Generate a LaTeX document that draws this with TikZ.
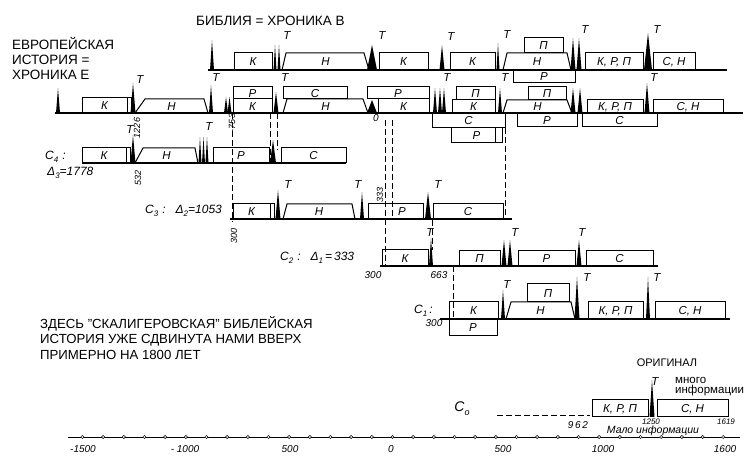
\documentclass[tikz,border=0pt]{standalone}
\usepackage{fontspec}
\setmainfont{Liberation Sans}
\newcommand\lidx[1]{\raisebox{-0.45ex}{\fontsize{8}{8}\selectfont #1}}
% spike: x, top y, base y, half width
\newcommand\spk[4]{\fill ({#1-#4},#3) -- (#1,#2) -- ({#1+#4},#3) -- cycle;}
% box with label: x1,y1,x2,y2,text
\newcommand\bxl[5]{\draw[bx] (#1,#2) rectangle (#3,#4);
  \node[lb] (b#1-#2) at ({(#1+#3)/2},{(#2+#4)/2+0.5}) {#5};}
% trapezoid: x1, x1top, x2top, x2, ytop, ybase, text
\newcommand\trp[7]{\draw[bx] (#1,#6) -- (#2,#5) -- (#3,#5) -- (#4,#6);
  \node[lb] (t#1-#5) at ({(#1+#4)/2},{(#5+#6)/2+0.5}) {#7};}
\newcommand\tT[2]{\node[tl] (T#1-#2) at (#1,#2) {Т};}
\begin{document}
\begin{tikzpicture}[x=1pt,y=-1pt,
  bx/.style={draw,line width=1pt,line join=miter},
  base/.style={line width=1.2pt},
  lb/.style={font=\fontsize{11.5}{12}\selectfont\itshape,inner sep=0pt},
  tl/.style={font=\fontsize{11.5}{12}\selectfont\itshape,inner sep=0pt},
  num/.style={font=\fontsize{9}{9}\selectfont\itshape,inner sep=0pt},
  cl/.style={font=\fontsize{12}{12}\selectfont\itshape,inner sep=0pt,anchor=west},
  axl/.style={font=\fontsize{10}{10}\selectfont\itshape,inner sep=0pt},
  dsh/.style={line width=0.8pt,dash pattern=on 6pt off 3pt},
  ttl/.style={font=\fontsize{13.5}{15}\selectfont,inner sep=0pt,anchor=west,align=left}]
\useasboundingbox (0,0) rectangle (748,457);
\fill[white] (0,0) rectangle (748,457);

% ---------- titles ----------
\node[ttl] (bib) at (196,21) {БИБЛИЯ = ХРОНИКА В};
\node[ttl] (evr) at (12,58) {ЕВРОПЕЙСКАЯ\\ИСТОРИЯ =\\ХРОНИКА Е};

% ---------- row 1 : chronicle B ----------
\draw[base] (208,70) -- (727,70);
\spk{212}{40}{70}{2}
\bxl{234}{53}{272}{70}{К}
\spk{275}{45}{70}{1.5}\spk{279}{45}{70}{1.5}
\tT{287}{36}
\trp{282}{286}{364}{369}{53}{70}{Н}
\spk{372}{45}{70}{5}\tT{382}{36}
\bxl{379}{53}{428}{70}{К}
\spk{442}{45}{70}{2.5}\tT{451}{37}
\bxl{450}{53}{495}{70}{К}
\spk{498}{43}{70}{1.5}\tT{507}{35}
\trp{503}{507}{567}{571}{53}{70}{Н}
\bxl{524}{38}{563}{53}{П}
\bxl{513}{70}{575}{83}{Р}
\spk{573}{38}{70}{2.5}\spk{579}{38}{70}{2.5}\tT{585}{30}
\bxl{585}{53}{643}{70}{К, Р, П}
\spk{648}{33}{70}{4}\tT{657}{30}
\bxl{653}{53}{695}{70}{С, Н}

% ---------- row 2 : chronicle E ----------
\draw[base] (55,113) -- (743,113);
\spk{58}{88}{113}{2}
\bxl{82}{98}{127}{113}{К}
\draw[bx] (127,98) rectangle (131,113);
\spk{133}{83}{113}{2.5}\tT{140}{80}
\trp{135}{145}{204}{208}{99}{113}{Н}
\spk{211}{85}{113}{2}\tT{216}{78}
\spk{226}{97}{113}{2}\spk{229.5}{97}{113}{2}
\bxl{233}{87}{272}{99}{Р}
\bxl{233}{99}{272}{113}{К}
\spk{276}{92}{113}{2.5}\tT{285}{78}
\bxl{283}{87}{347}{99}{С}
\trp{283}{287}{363}{368}{99}{113}{Н}
\spk{372}{100}{113}{5}
\bxl{367}{87}{429}{99}{Р}
\bxl{378}{99}{429}{113}{К}
\spk{435}{88}{113}{2}\spk{440}{88}{113}{2}\spk{444}{88}{113}{2}\tT{447}{78}
\bxl{456}{87}{495}{100}{П}
\bxl{452}{100}{495}{113}{К}
\bxl{432}{113}{505}{128}{С}
\bxl{451}{128}{502}{143}{Р}
\draw[bx] (495,128) -- (495,143);
\spk{500}{88}{113}{2}\tT{505}{78}
\trp{503}{507}{567}{572}{100}{113}{Н}
\bxl{528}{87}{566}{100}{П}
\bxl{517}{113}{577}{127}{Р}
\spk{573}{88}{113}{2.5}\spk{580}{88}{113}{2.5}
\bxl{587}{100}{643}{113}{К, Р, П}
\bxl{582}{113}{657}{127}{С}
\spk{647}{83}{113}{2.5}\tT{654}{78}
\bxl{653}{100}{723}{113}{С, Н}
\node[num,font=\fontsize{10}{10}\selectfont\itshape] (zero) at (376,118) {0};

% ---------- C4 ----------
\draw[base] (82,163) -- (346,163);
\node[cl] (c4) at (45,157) {С\lidx{4}\,\,:};
\node[cl] (d3) at (47,173) {Δ\lidx{3}=1778};
\bxl{82}{148}{126}{163}{К}
\draw[bx] (126,148) rectangle (130,163);
\spk{133}{135}{163}{2.5}\tT{130}{130}
\trp{135}{143}{195}{198}{148}{163}{Н}
\spk{200}{137}{163}{1.5}\spk{203.5}{137}{163}{1.5}\spk{207}{137}{163}{1.5}\tT{209}{127}
\bxl{213}{148}{269}{163}{Р}
\spk{273}{140}{163}{3}
\bxl{281}{148}{346}{163}{С}
\node[num,rotate=90] (n1226) at (137,128) {1226};
\node[num,rotate=90] (n753) at (232,123) {-753};
\node[num,rotate=90] (n532) at (138,178) {532};

% ---------- C3 ----------
\draw[base] (230,219) -- (512,219);
\node[cl] (c3) at (145,211) {С\lidx{3}\,\,:\,\,\,\,\,Δ\lidx{2}=1053};
\bxl{233}{204}{270}{219}{К}
\draw[bx] (270,204) rectangle (274,219);
\spk{278}{190}{219}{2.5}\tT{288}{185}
\trp{283}{287}{352}{355}{204}{219}{Н}
\spk{362}{192}{219}{2}\tT{358}{185}
\bxl{368}{204}{423}{219}{}
\node[lb] (p3) at (402,212) {Р};
\spk{428}{192}{219}{3}\tT{438}{185}
\bxl{433}{204}{503}{219}{С}
\node[num,rotate=90] (n300a) at (234,236) {300};
\node[num,rotate=90] (n333) at (380,195) {333};

% ---------- C2 ----------
\draw[base] (380,266) -- (658,266);
\node[cl] (c2) at (280,258) {С\lidx{2}\,\,:\,\,\,\,\,Δ\lidx{1}\,=\,333};
\bxl{382}{250}{428}{266}{К}
\spk{431}{238}{266}{2}\tT{430}{233}
\bxl{459}{251}{500}{266}{П}
\spk{504}{240}{266}{2.5}\spk{510}{240}{266}{2.5}\tT{515}{233}
\bxl{518}{251}{575}{266}{Р}
\spk{579}{240}{266}{2.5}\tT{582}{233}
\bxl{586}{251}{653}{266}{С}
\node[num,font=\fontsize{10}{10}\selectfont\itshape] (n300b) at (373,275) {300};
\node[num,font=\fontsize{10}{10}\selectfont\itshape] (n663) at (439,275) {663};

% ---------- C1 ----------
\draw[base] (440,319) -- (730,319);
\node[cl] (c1) at (414,311) {С\lidx{1}\,:};
\node[num,font=\fontsize{10}{10}\selectfont\itshape] (n300c) at (434,323) {300};
\bxl{449}{302}{498}{319}{К}
\bxl{449}{319}{497}{336}{Р}
\spk{503}{290}{319}{2}\tT{507}{285}
\trp{506}{511}{571}{575}{302}{319}{Н}
\bxl{527}{284}{569}{302}{П}
\spk{577}{277}{319}{2.5}\tT{587}{278}
\bxl{588}{302}{643}{319}{К, Р, П}
\spk{648}{277}{319}{2}\tT{657}{278}
\bxl{655}{302}{725}{319}{С, Н}

% ---------- dashed links ----------
\draw[dsh] (232,113) -- (232,222);
\draw[dsh] (270,113) -- (270,163);
\draw[dsh] (277,113) -- (277,150);
\draw[dsh] (385,120) -- (385,266);
\draw[dsh] (392,120) -- (392,219);
\draw[dsh] (505,128) -- (505,219);
\draw[dsh] (432,220) -- (432,250);
\draw[dsh] (453,266) -- (453,319);

% ---------- note ----------
\node[font=\fontsize{13.2}{15.5}\selectfont,inner sep=0pt,anchor=west,align=left] (note) at (40,338)
  {ЗДЕСЬ "СКАЛИГЕРОВСКАЯ" БИБЛЕЙСКАЯ\\ИСТОРИЯ УЖЕ СДВИНУТА НАМИ ВВЕРХ\\ПРИМЕРНО НА 1800 ЛЕТ};

% ---------- C0 original ----------
\node[font=\fontsize{11}{11}\selectfont,inner sep=0pt] (orig) at (667,363) {ОРИГИНАЛ};
\tT{655}{382}
\node[font=\fontsize{11.5}{11.5}\selectfont,inner sep=0pt,anchor=west] (mn1) at (675,380) {много};
\node[font=\fontsize{11.5}{11.5}\selectfont,inner sep=0pt,anchor=west] (mn2) at (675,391) {информации};
\node[font=\fontsize{14}{14}\selectfont\itshape,inner sep=0pt] (c0) at (462,409) {С\raisebox{-0.5ex}{\fontsize{9}{9}\selectfont о}};
\draw[dsh] (497,415) -- (590,415);
\bxl{592}{400}{648}{417}{К, Р, П}
\spk{652}{380}{417}{2.5}
\bxl{657}{400}{728}{417}{С, Н}
\node[axl] (n962) at (578,425) {9\,6\,2};
\node[num,font=\fontsize{8}{8}\selectfont\itshape] (n1250) at (651,421.5) {1250};
\node[num,font=\fontsize{8}{8}\selectfont\itshape] (n1619) at (726,422) {1619};
\node[axl,font=\fontsize{10.5}{10.5}\selectfont\itshape] (malo) at (653,430.5) {Мало информации};

% ---------- time axis ----------
\draw[line width=0.9pt] (68,437) -- (740,437);
\foreach \v in {-1500,-1400,...,1600}
  \draw[fill=white,line width=0.5pt] ({392.5+0.2067*\v},437) circle (1.6pt);
\node[axl] (a1) at (83,449) {-1500};
\node[axl] (a2) at (185,449) {- 1000};
\node[axl] (a3) at (290,449) {500};
\node[axl] (a4) at (391,449) {0};
\node[axl] (a5) at (503,449) {500};
\node[axl] (a6) at (603,449) {1000};
\node[axl] (a7) at (725,449) {1600};
\end{tikzpicture}
\end{document}
